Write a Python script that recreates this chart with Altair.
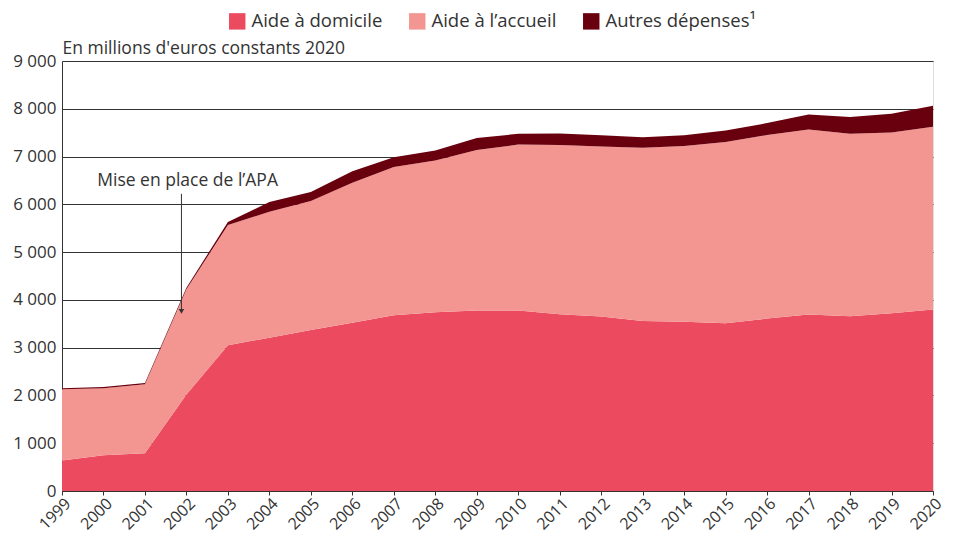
import altair as alt
import pandas as pd

years = list(range(1999, 2021))
domicile = [640, 750, 790, 2020, 3050, 3210, 3370, 3520, 3680, 3740, 3780,
            3780, 3700, 3650, 3560, 3545, 3510, 3610, 3695, 3655, 3720, 3800]
accueil = [1490, 1400, 1445, 2205, 2515, 2635, 2700, 2930, 3100, 3180, 3355,
           3470, 3540, 3560, 3625, 3675, 3795, 3840, 3870, 3820, 3785, 3825]
autres = [20, 25, 25, 30, 65, 205, 190, 245, 205, 205, 255,
          225, 240, 235, 220, 225, 240, 250, 315, 355, 390, 440]

series = ["Aide à domicile", "Aide à l’accueil", "Autres dépenses¹"]
colors = ["#EC4A5F", "#F39591", "#69000E"]

rows = []
for i, y in enumerate(years):
    for k, (name, vals) in enumerate(zip(series, [domicile, accueil, autres])):
        rows.append({"annee": y, "serie": name, "valeur": vals[i], "ordre": k})
df = pd.DataFrame(rows)

annot_text = ["Mise en place de l’APA"]
annot_x = [1999.85]
annot_y = [6390]
arrow_x = [2001.88]
arrow_top = [6220]
arrow_bottom = [3760]

font = "Open Sans"
txt = "#333333"

x_scale = alt.Scale(domain=[1999, 2020], nice=False, zero=False)
y_scale = alt.Scale(domain=[0, 9000], nice=False)

area = alt.Chart(df).mark_area(opacity=1).encode(
    x=alt.X("annee:Q", scale=x_scale,
            axis=alt.Axis(values=years, format="d", labelAngle=-45, labelFontSize=16,
                          labelColor=txt, tickColor=txt, domainColor=txt, tickSize=4,
                          grid=False, title=None, labelPadding=0, labelFont=font)),
    y=alt.Y("valeur:Q", stack="zero", scale=y_scale,
            axis=alt.Axis(values=list(range(0, 9001, 1000)),
                          labelExpr="replace(format(datum.value, ',d'), ',', ' ')",
                          labelFontSize=17, labelColor=txt, labelFont=font,
                          ticks=False, labelPadding=6, domainColor=txt,
                          grid=True, gridColor=txt, gridWidth=1,
                          title="En millions d'euros constants 2020",
                          titleAngle=0, titleAlign="left", titleBaseline="alphabetic",
                          titleX=0, titleY=-8, titleFontSize=17.5, titleFontWeight="normal",
                          titleColor=txt, titleFont=font)),
    color=alt.Color("serie:N", scale=alt.Scale(domain=series, range=colors),
                    legend=alt.Legend(orient="none", legendX=166, legendY=-49,
                                      direction="horizontal", title=None,
                                      symbolType="square", symbolSize=270,
                                      symbolStrokeWidth=0, labelFontSize=18.5,
                                      labelColor=txt, labelFont=font,
                                      columnPadding=25, labelOffset=5)),
    order=alt.Order("ordre:Q", sort="ascending"),
)

ann_df = pd.DataFrame({"x": annot_x, "y": annot_y, "t": annot_text})
text = alt.Chart(ann_df).mark_text(align="left", baseline="alphabetic", fontSize=17.5,
                                   color=txt, font=font).encode(
    x=alt.X("x:Q", scale=x_scale), y=alt.Y("y:Q", scale=y_scale), text="t:N")

arr_df = pd.DataFrame({"x": arrow_x, "y": arrow_top, "y2": arrow_bottom})
rule = alt.Chart(arr_df).mark_rule(color=txt, strokeWidth=1).encode(
    x=alt.X("x:Q", scale=x_scale), y=alt.Y("y:Q", scale=y_scale), y2="y2:Q")
head = alt.Chart(arr_df).mark_point(shape="triangle-down", filled=True, size=30,
                                    color=txt, opacity=1).encode(
    x=alt.X("x:Q", scale=x_scale), y=alt.Y("y2:Q", scale=y_scale))

chart = alt.layer(area, text, rule, head).properties(
    width=871, height=430,
    autosize=alt.AutoSizeParams(type="none"),
    padding={"left": 54, "top": 53, "right": 15, "bottom": 42},
).configure_view(stroke=None).configure(font=font)

chart.save("out.html", embed_options={"renderer": "svg", "actions": False})
